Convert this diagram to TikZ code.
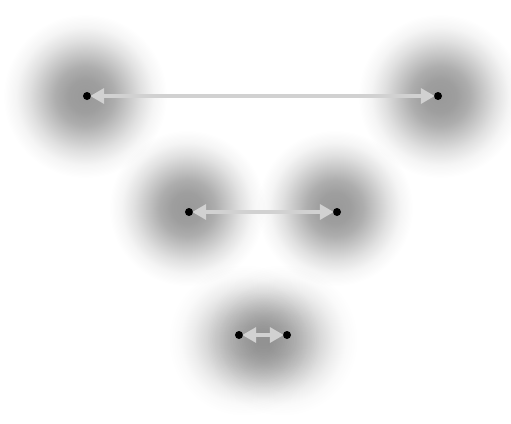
\documentclass[tikz,border=0pt]{standalone}
\usetikzlibrary{arrows.meta}
\pgfdeclareradialshading{blob}{\pgfpoint{0bp}{0bp}}{color(0bp)=(black!40); color(5bp)=(black!38); color(9bp)=(black!32); color(13bp)=(black!22); color(17bp)=(black!12); color(21bp)=(black!4); color(25bp)=(white); color(50bp)=(white)}
\pgfdeclareradialshading{blobsoft}{\pgfpoint{0bp}{0bp}}{color(0bp)=(black!28); color(5bp)=(black!26); color(9bp)=(black!21); color(13bp)=(black!14); color(17bp)=(black!7); color(21bp)=(black!2); color(25bp)=(white); color(50bp)=(white)}
\tikzset{
  dot/.style={circle, fill=black, inner sep=0pt, minimum size=8pt},
  arr/.style={draw=black!18, line width=4.5pt, {Triangle[length=14pt,width=15pt]}-{Triangle[length=14pt,width=15pt]}, shorten <=-1pt, shorten >=-1pt},
  blobfill/.style={shading=blob},
  blobsoftfill/.style={shading=blobsoft}
}
\begin{document}
\begin{tikzpicture}[x=1pt,y=-1pt]
\fill[white] (0,0) rectangle (511,423);
\useasboundingbox (0,0) rectangle (511,423);
\begin{scope}[blend mode=multiply]
\path[blobfill] (85,96) circle (82pt);
\path[blobfill] (440,96) circle (82pt);
\path[blobfill] (187,208) circle (78pt);
\path[blobfill] (335,208) circle (78pt);
\path[blobsoftfill] (244,340) circle (76pt);
\path[blobsoftfill] (282,340) circle (76pt);
\end{scope}
\node[dot] (a1) at (87,96) {};
\node[dot] (a2) at (438,96) {};
\node[dot] (b1) at (189,212) {};
\node[dot] (b2) at (337,212) {};
\node[dot] (c1) at (239,335) {};
\node[dot] (c2) at (287,335) {};
\draw[arr] (a1) -- (a2);
\draw[arr] (b1) -- (b2);
\draw[arr] (c1) -- (c2);
\end{tikzpicture}
\end{document}
